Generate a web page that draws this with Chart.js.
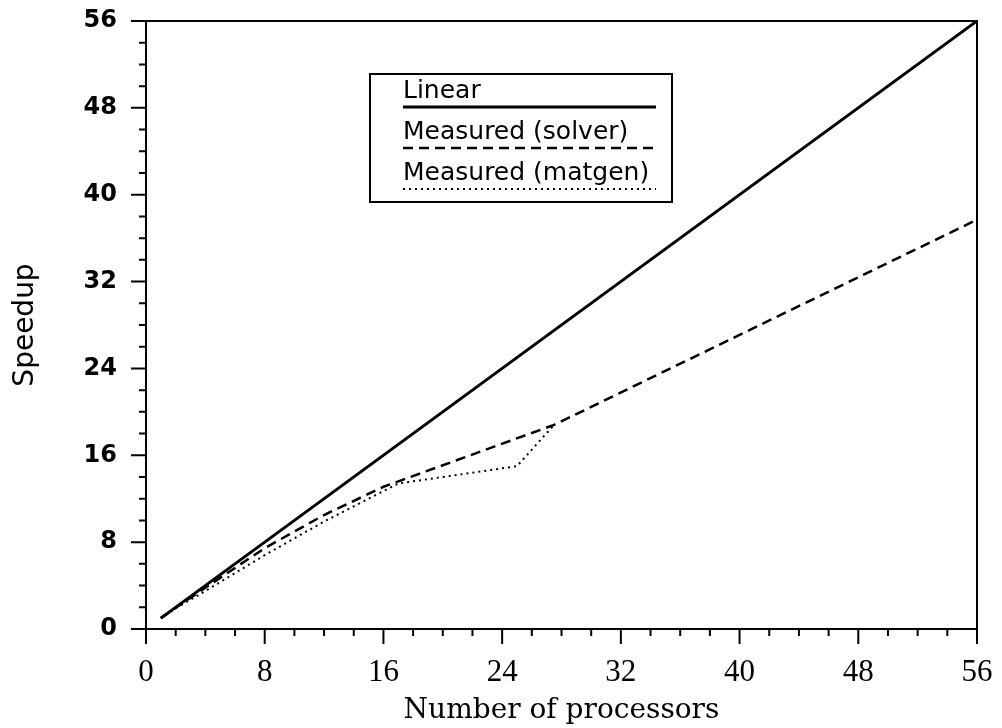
<!DOCTYPE html>
<html>
<head>
<meta charset="utf-8">
<title>Speedup</title>
<script src="https://cdn.jsdelivr.net/npm/chart.js@4.4.0/dist/chart.umd.min.js"></script>
<style>
  html, body { margin: 0; padding: 0; background: #fff; }
  #container { width: 1002px; height: 728px; }
</style>
</head>
<body>
<div id="container"><canvas id="canvas" width="1002" height="728"></canvas></div>
<script>
// values
var linearX = [1, 56];
var linearY = [1, 56];
var solverX = [1, 2, 4, 8, 12, 16, 27.5, 56];
var solverY = [1, 1.95, 3.8, 7.45, 10.5, 13.1, 18.8, 37.7];
var matgenX = [1, 2, 4, 8, 12, 17, 25, 27.5];
var matgenY = [1, 1.9, 3.5, 6.8, 9.9, 13.4, 15.0, 18.8];
var axisMax = 56;
var majorStep = 8;
var minorStep = 2;

function pts(xs, ys) {
  var out = [];
  for (var i = 0; i < xs.length; i++) out.push({x: xs[i], y: ys[i]});
  return out;
}

// no extra room for overhanging tick labels, layout.padding decides
function noOverhang(s) {
  s.paddingTop = 0; s.paddingBottom = 0;
  s.paddingLeft = 0; s.paddingRight = 0;
}

// frame, minor/major ticks and the boxed legend
var framePlugin = {
  id: 'frame',
  afterDraw: function(chart) {
    var ctx = chart.ctx, a = chart.chartArea;
    var xs = chart.scales.x, ys = chart.scales.y;
    ctx.save();
    ctx.strokeStyle = '#000';
    ctx.lineWidth = 2;
    ctx.strokeRect(a.left, a.top, a.right - a.left, a.bottom - a.top);
    ctx.beginPath();
    for (var v = 0; v <= axisMax; v += minorStep) {
      var len = (v % majorStep === 0) ? 15 : 7;
      var px = xs.getPixelForValue(v);
      ctx.moveTo(px, a.bottom);
      ctx.lineTo(px, a.bottom + len);
      var py = ys.getPixelForValue(v);
      ctx.moveTo(a.left, py);
      ctx.lineTo(a.left - len, py);
    }
    ctx.stroke();

    // legend
    var lx = 370, ly = 74, lw = 302, lh = 128;
    ctx.lineWidth = 2;
    ctx.strokeRect(lx, ly, lw, lh);
    ctx.font = '25px "DejaVu Sans"';
    ctx.fillStyle = '#000';
    ctx.textBaseline = 'alphabetic';
    ctx.textAlign = 'left';
    chart.data.datasets.forEach(function(ds, i) {
      var base = 98 + i * 41;
      ctx.fillText(ds.label, 403, base);
      ctx.beginPath();
      ctx.setLineDash(ds.borderDash || []);
      ctx.lineWidth = ds.borderWidth;
      ctx.moveTo(403, base + 9);
      ctx.lineTo(656, base + 9);
      ctx.stroke();
    });
    ctx.setLineDash([]);
    ctx.restore();
  }
};

var ctx = document.getElementById('canvas').getContext('2d');
new Chart(ctx, {
  type: 'line',
  data: {
    datasets: [
      { label: 'Linear', data: pts(linearX, linearY), borderColor: '#000', borderWidth: 3, pointRadius: 0, fill: false },
      { label: 'Measured (solver)', data: pts(solverX, solverY), borderColor: '#000', borderWidth: 2.5, borderDash: [10, 6], pointRadius: 0, fill: false },
      { label: 'Measured (matgen)', data: pts(matgenX, matgenY), borderColor: '#000', borderWidth: 2, borderDash: [2, 4], pointRadius: 0, fill: false }
    ]
  },
  options: {
    responsive: false,
    animation: false,
    devicePixelRatio: 1,
    layout: { padding: { top: 21, right: 25, left: 0, bottom: 0 } },
    plugins: { legend: { display: false }, tooltip: { enabled: false } },
    scales: {
      x: {
        type: 'linear', min: 0, max: axisMax,
        grid: { display: false, drawTicks: false },
        border: { display: false },
        ticks: { stepSize: majorStep, color: '#000', padding: 25, font: { family: '"Liberation Serif"', size: 31 } },
        title: { display: true, text: 'Number of processors', color: '#000',
                 font: { family: '"DejaVu Serif"', size: 28 }, padding: { top: 0, bottom: 0 } },
        afterFit: function(s) { s.height = 99; noOverhang(s); }
      },
      y: {
        type: 'linear', min: 0, max: axisMax,
        grid: { display: false, drawTicks: false },
        border: { display: false },
        ticks: { stepSize: majorStep, color: '#000', padding: 29, font: { family: '"DejaVu Sans"', size: 24, weight: 'bold' } },
        title: { display: true, text: 'Speedup', color: '#000',
                 font: { family: '"DejaVu Sans"', size: 28 }, padding: { top: 9, bottom: 0 } },
        afterFit: function(s) { s.width = 146; noOverhang(s); }
      }
    }
  },
  plugins: [framePlugin]
});
</script>
</body>
</html>
